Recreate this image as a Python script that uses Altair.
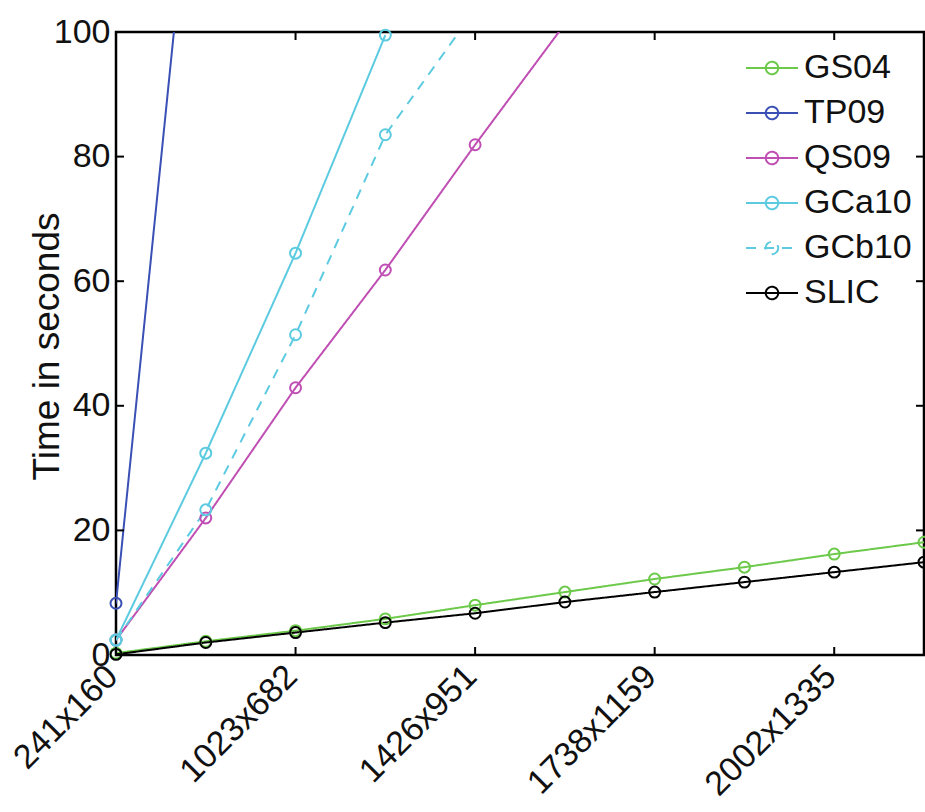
import altair as alt
import pandas as pd

# ---- data ----
x_index = list(range(10))
tick_positions = [0, 2, 4, 6, 8]
tick_labels = ["241x160", "1023x682", "1426x951", "1738x1159", "2002x1335"]
y_ticks = [0, 20, 40, 60, 80, 100]

series_names = ["GS04", "TP09", "QS09", "GCa10", "GCb10", "SLIC"]
series_colors = ["#6cc94a", "#3a50b4", "#c04fb4", "#5ccbe0", "#5ccbe0", "#000000"]
series_dash = [[1, 0], [1, 0], [1, 0], [1, 0], [10, 8], [1, 0]]

GS04 = [0.3, 2.2, 3.9, 5.8, 8.0, 10.1, 12.2, 14.1, 16.2, 18.1]
TP09 = [8.3, 150.5]
QS09 = [2.4, 22.0, 42.9, 61.8, 81.9, 101.3]
GCa10 = [2.4, 32.4, 64.5, 99.5]
GCb10 = [2.4, 23.3, 51.4, 83.5, 103.6]
SLIC = [0.1, 2.0, 3.6, 5.2, 6.7, 8.5, 10.1, 11.7, 13.3, 14.9]

values = {"GS04": GS04, "TP09": TP09, "QS09": QS09, "GCa10": GCa10, "GCb10": GCb10, "SLIC": SLIC}
rows = []
for name in series_names:
    for i, v in enumerate(values[name]):
        rows.append({"series": name, "idx": x_index[i], "value": v})
df = pd.DataFrame(rows)

FONT = "Liberation Sans"
W, H = 808, 623

label_expr = "{" + ",".join(f"'{p}':'{l}'" for p, l in zip(tick_positions, tick_labels)) + "}[datum.value]"

xscale = alt.Scale(domain=[0, 9], nice=False, zero=False)
yscale = alt.Scale(domain=[0, 100], nice=False)

legend_symbol = "M-1,0L1,0M0.24,0A0.24,0.24,0,1,1,-0.24,0A0.24,0.24,0,1,1,0.24,0"
legend = alt.Legend(
    title=None, orient="none", legendX=629, legendY=9,
    symbolType=legend_symbol, symbolSize=2704, symbolStrokeWidth=2,
    symbolFillColor="transparent",
    labelFont=FONT, labelFontSize=34, labelOffset=5, rowPadding=1,
    padding=0, labelColor="#111111",
)

color = alt.Color("series:N", scale=alt.Scale(domain=series_names, range=series_colors), legend=legend)
dash = alt.StrokeDash("series:N", scale=alt.Scale(domain=series_names, range=series_dash), legend=legend)

x_axis = alt.Axis(values=tick_positions, labelExpr=label_expr, labelAngle=315, labelAlign="right",
                  labelBaseline="middle", labelPadding=16, labelOffset=-4, ticks=False, domain=False,
                  grid=False, labelFlush=False, labelOverlap=False, labelBound=False,
                  labelFont=FONT, labelFontSize=34, labelColor="#111111", title=None)
y_axis = alt.Axis(values=y_ticks, ticks=False, tickSize=0, domain=False, grid=False,
                  labelFont=FONT, labelFontSize=34, labelPadding=6, labelColor="#111111",
                  title="Time in seconds", titleFont=FONT, titleFontSize=37, titleFontWeight="normal",
                  titleColor="#111111", titleAngle=270, titleX=-58, titleY=314,
                  titleAlign="center", titleBaseline="alphabetic")

X = alt.X("idx:Q", scale=xscale, axis=x_axis)
Y = alt.Y("value:Q", scale=yscale, axis=y_axis)

base = alt.Chart(df)
lines = base.mark_line(clip=True, strokeWidth=2).encode(
    x=X, y=Y,
    color=color,
    strokeDash=dash,
    detail="series:N",
)
points = base.transform_filter("datum.value <= 100").mark_point(
    shape="circle", filled=False, size=120, strokeWidth=2, opacity=1
).encode(
    x=X, y=Y,
    color=alt.Color("series:N", scale=alt.Scale(domain=series_names, range=series_colors), legend=None),
)

ydf = pd.DataFrame({"value": y_ticks})
xdf = pd.DataFrame({"idx": tick_positions})
tick_len = 8
left_ticks = alt.Chart(ydf).mark_rule(color="black", strokeWidth=2).encode(
    y=Y, x=alt.value(0), x2=alt.value(tick_len))
right_ticks = alt.Chart(ydf).mark_rule(color="black", strokeWidth=2).encode(
    y=Y, x=alt.value(W - tick_len), x2=alt.value(W))
bottom_ticks = alt.Chart(xdf).mark_rule(color="black", strokeWidth=2).encode(
    x=X, y=alt.value(H - tick_len), y2=alt.value(H))
top_ticks = alt.Chart(xdf).mark_rule(color="black", strokeWidth=2).encode(
    x=X, y=alt.value(0), y2=alt.value(tick_len))

chart = alt.layer(lines, points, left_ticks, right_ticks, bottom_ticks, top_ticks).properties(
    width=W, height=H,
    background="white",
    autosize=alt.AutoSizeParams(type="none"),
    padding={"left": 116, "top": 32, "right": 1, "bottom": 157},
).configure_view(stroke="black", strokeWidth=2.5)

chart.save("out.html", embed_options={"renderer": "svg", "actions": False})
